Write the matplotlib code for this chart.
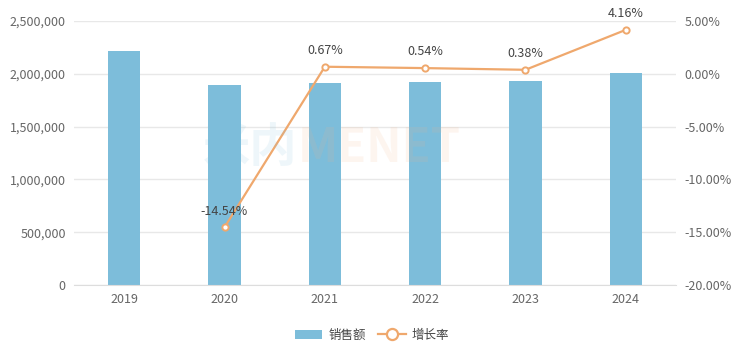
import numpy as np
import matplotlib.pyplot as plt
from matplotlib.ticker import FuncFormatter
from matplotlib.lines import Line2D
from matplotlib.patches import Patch

plt.rcParams['font.family'] = ['Noto Sans CJK SC', 'DejaVu Sans']

# 数据
years = ['2019', '2020', '2021', '2022', '2023', '2024']
sales = [2220000, 1897000, 1910000, 1920000, 1927500, 2007700]
growth_years = ['2020', '2021', '2022', '2023', '2024']
growth = [-14.54, 0.67, 0.54, 0.38, 4.16]

bar_color = '#7DBDDA'
line_color = '#EFA86D'
text_color = '#666666'
grid_color = '#E8E8E8'

fig = plt.figure(figsize=(7.44, 3.56), dpi=100)
ax = fig.add_axes([0.0995, 0.1994, 0.809, 0.7416])
ax2 = ax.twinx()

x = np.arange(len(years))
ax.bar(x, sales, width=0.32, color=bar_color, zorder=2)
ax.set_xlim(-0.5, len(years) - 0.5)
ax.set_ylim(0, 2500000)
ax.set_yticks(np.arange(0, 2500001, 500000))
ax.yaxis.set_major_formatter(FuncFormatter(lambda v, p: f'{v:,.0f}'))
ax.set_xticks(x)
ax.set_xticklabels(years)
ax.grid(axis='y', color=grid_color, lw=1, zorder=0)
ax.set_axisbelow(True)

gx = [years.index(y) for y in growth_years]
ax2.plot(gx, growth, color=line_color, lw=1.6, marker='o', ms=4.5,
         markerfacecolor='white', markeredgecolor=line_color, markeredgewidth=1.4, zorder=3)
for xi, g in zip(gx, growth):
    ax2.annotate(f'{g:.2f}%', (xi, g), xytext=(0, 7), textcoords='offset points',
                 ha='center', va='bottom', fontsize=9, color='#444444')
ax2.set_ylim(-20, 5)
ax2.set_yticks(np.arange(-20, 5.1, 5))
ax2.yaxis.set_major_formatter(FuncFormatter(lambda v, p: f'{v:.2f}%'))

for a in (ax, ax2):
    for s in a.spines.values():
        s.set_visible(False)
    a.tick_params(length=0, labelsize=9, labelcolor=text_color, pad=6)
ax.spines['bottom'].set_visible(True)
ax.spines['bottom'].set_color('#DDDDDD')

# 水印
fig.text(0.40, 0.585, '米内', fontsize=34, color='#7DBDDA', alpha=0.13, ha='right', va='center', fontweight='bold')
fig.text(0.40, 0.585, 'MENET', fontsize=34, color='#F5B48A', alpha=0.13, ha='left', va='center', fontweight='bold')

handles = [Patch(facecolor=bar_color, edgecolor='none'),
           Line2D([0], [0], color=line_color, lw=1.6, marker='o', ms=8,
                  markerfacecolor='white', markeredgecolor=line_color, markeredgewidth=1.6)]
fig.legend(handles, ['销售额', '增长率'], loc='center', bbox_to_anchor=(0.5, 0.058),
           ncol=2, frameon=False, fontsize=9, handlelength=2.2, columnspacing=1.0,
           handletextpad=0.5, labelcolor='#444444')

fig.savefig('out.png', dpi=100)
